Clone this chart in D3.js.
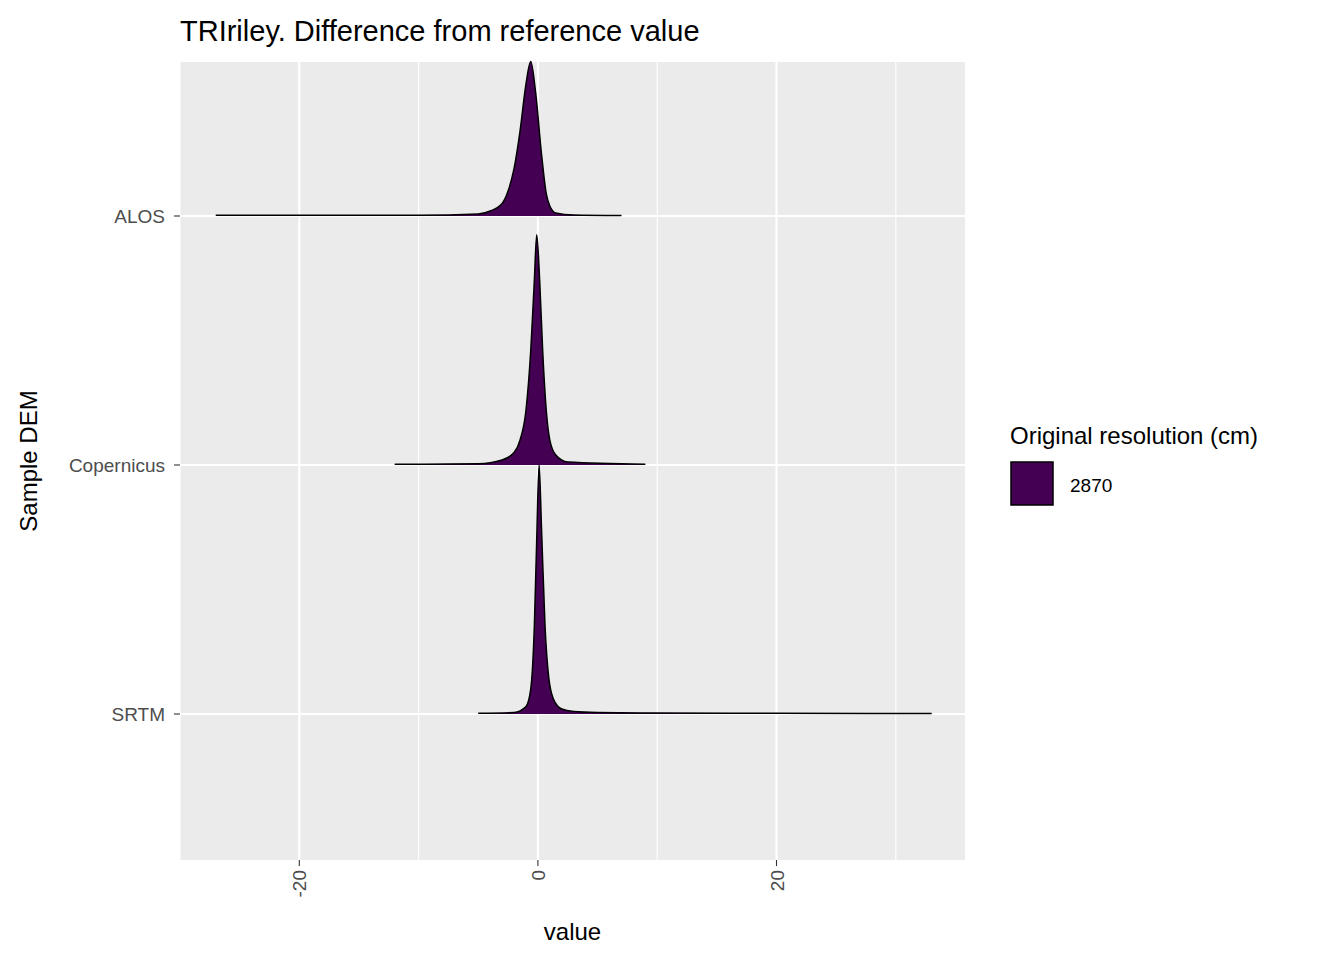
<!DOCTYPE html>
<html><head><meta charset="utf-8">
<script src="https://cdn.jsdelivr.net/npm/d3@7"></script>
<style>body{margin:0;background:#fff;font-family:Arial,"Liberation Sans",sans-serif;}</style>
</head><body><svg id="c" width="1344" height="960"></svg>
<script>
// density estimates (value, relative height; SRTM peak = 1)
var dems = ["ALOS", "Copernicus", "SRTM"];
var alos = [[-27,0.003],[-10,0.003],[-5,0.008],[-4,0.02],[-3,0.05],[-2.5,0.1],[-2,0.19],[-1.5,0.34],[-1,0.53],[-0.6,0.62],[-0.2,0.5],[0.3,0.25],[0.7,0.09],[1,0.04],[1.5,0.012],[3,0.004],[7,0.002]];
var copernicus = [[-12,0.003],[-5,0.005],[-3,0.02],[-2,0.05],[-1.5,0.1],[-1,0.22],[-0.6,0.46],[-0.3,0.74],[-0.1,0.925],[0.15,0.74],[0.4,0.46],[0.7,0.22],[1,0.1],[1.5,0.04],[2.5,0.012],[9,0.003]];
var srtm = [[-5,0.003],[-2,0.006],[-1,0.03],[-0.6,0.1],[-0.3,0.35],[-0.1,0.7],[0.1,1],[0.3,0.75],[0.6,0.35],[0.9,0.15],[1.3,0.06],[2,0.02],[3,0.01],[5,0.006],[10,0.004],[20,0.003],[33,0.002]];
var series = [alos, copernicus, srtm];
var xTicks = [-20, 0, 20];
var legendLabel = "2870";

var svg = d3.select("#c");
var L = 180, R = 965, T = 62, B = 860;
var x = d3.scaleLinear().domain([-30, 35.8]).range([L, R]);
var y = d3.scalePoint().domain(dems).range([216, 714]);
var step = y.step();

svg.append("rect").attr("x", L).attr("y", T).attr("width", R - L).attr("height", B - T).attr("fill", "#ebebeb");
[-30, -10, 10, 30].forEach(function(v){
  svg.append("line").attr("x1", x(v)).attr("x2", x(v)).attr("y1", T).attr("y2", B).attr("stroke", "#fff").attr("stroke-width", 1.1);
});
xTicks.forEach(function(v){
  svg.append("line").attr("x1", x(v)).attr("x2", x(v)).attr("y1", T).attr("y2", B).attr("stroke", "#fff").attr("stroke-width", 2.2);
});
dems.forEach(function(d){
  svg.append("line").attr("x1", L).attr("x2", R).attr("y1", y(d)).attr("y2", y(d)).attr("stroke", "#fff").attr("stroke-width", 2.2);
});

series.forEach(function(s, i){
  var base = y(dems[i]);
  var area = d3.area().curve(d3.curveMonotoneX)
    .x(function(p){ return x(p[0]); })
    .y0(base).y1(function(p){ return base - p[1] * step; });
  var line = d3.line().curve(d3.curveMonotoneX)
    .x(function(p){ return x(p[0]); })
    .y(function(p){ return base - p[1] * step; });
  svg.append("path").attr("d", area(s)).attr("fill", "#440154");
  svg.append("path").attr("d", line(s)).attr("fill", "none").attr("stroke", "#000").attr("stroke-width", 1.5);
});

// axes
xTicks.forEach(function(v){
  svg.append("line").attr("x1", x(v)).attr("x2", x(v)).attr("y1", B).attr("y2", B + 6).attr("stroke", "#333").attr("stroke-width", 1.1);
  svg.append("text").attr("transform", "translate(" + (x(v) + 7) + "," + (B + 10) + ") rotate(-90)")
    .attr("text-anchor", "end").attr("font-size", 19).attr("fill", "#4d4d4d").text(v);
});
dems.forEach(function(d){
  svg.append("line").attr("x1", L - 6).attr("x2", L).attr("y1", y(d)).attr("y2", y(d)).attr("stroke", "#333").attr("stroke-width", 1.1);
  svg.append("text").attr("x", L - 15).attr("y", y(d) + 7).attr("text-anchor", "end").attr("font-size", 19).attr("fill", "#4d4d4d").text(d);
});
svg.append("text").attr("x", (L + R) / 2).attr("y", 940).attr("text-anchor", "middle").attr("font-size", 24).text("value");
svg.append("text").attr("transform", "translate(37," + ((T + B) / 2) + ") rotate(-90)").attr("text-anchor", "middle").attr("font-size", 24).text("Sample DEM");
svg.append("text").attr("x", L).attr("y", 41).attr("font-size", 29).text("TRIriley. Difference from reference value");

// legend
svg.append("text").attr("x", 1010).attr("y", 444).attr("font-size", 24).text("Original resolution (cm)");
svg.append("rect").attr("x", 1011).attr("y", 462).attr("width", 42).attr("height", 43).attr("fill", "#440154").attr("stroke", "#000").attr("stroke-width", 1.5);
svg.append("text").attr("x", 1070).attr("y", 492).attr("font-size", 19).text(legendLabel);
</script></body></html>
